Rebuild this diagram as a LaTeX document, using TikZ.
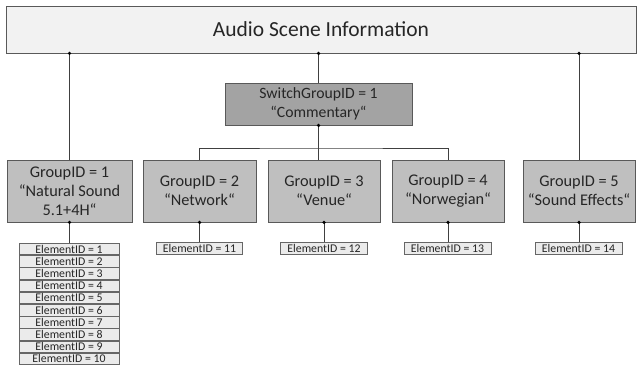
\documentclass[tikz,border=0pt]{standalone}
\usepackage{fontspec}
\setmainfont{Carlito}
\begin{document}
\begin{tikzpicture}[x=1pt,y=-1pt,
  every node/.style={inner sep=0pt, text=black!85, align=center},
  frame/.style={draw=black!65, line width=0.9pt},
  scenebox/.style={frame, fill=black!5, minimum width=630pt, minimum height=47pt, font=\fontsize{21.5}{24}\selectfont},
  switchbox/.style={frame, fill=black!36, minimum width=187pt, minimum height=42pt, font=\fontsize{15.7}{19}\selectfont},
  groupbox/.style={frame, fill=black!25, minimum width=#1, minimum height=62pt, font=\fontsize{16.3}{19}\selectfont},
  elembox/.style={draw=black!60, line width=0.7pt, fill=black!8, minimum width=#1, minimum height=11.5pt, font=\fontsize{11.8}{11}\selectfont},
  link/.style={draw=black!75, line width=0.8pt},
  dot/.style={circle, fill=black, minimum size=3.6pt, inner sep=0pt}
]
\useasboundingbox (0,0) rectangle (637,371);

% top level
\node[scenebox] (asi) at (321,29.5) {Audio Scene Information};

% switch group
\node[switchbox] (sw) at (318.5,104) {SwitchGroupID = 1\\“Commentary“};

% groups
\node[groupbox=125pt] (g1) at (69.5,191) {GroupID = 1\\“Natural Sound\\5.1+4H“};
\node[groupbox=113pt] (g2) at (199.5,191) {GroupID = 2\\“Network“};
\node[groupbox=112pt] (g3) at (324,191) {GroupID = 3\\“Venue“};
\node[groupbox=112pt] (g4) at (448,191) {GroupID = 4\\“Norwegian“};
\node[groupbox=112pt] (g5) at (579,191) {GroupID = 5\\“Sound Effects“};

% elements of group 1
\foreach \i in {1,...,10} {
  \node[elembox=100pt] (e\i) at (69,{243+6.1+(\i-1)*12.2}) {ElementID = \i};
}
% elements of the other groups
\node[elembox=86pt] (e11) at (199.5,248.5) {ElementID = 11};
\node[elembox=87pt] (e12) at (324,248.5) {ElementID = 12};
\node[elembox=87pt] (e13) at (447.5,248.5) {ElementID = 13};
\node[elembox=87pt] (e14) at (578.5,248.5) {ElementID = 14};

% scene to groups
\draw[link] (asi.south -| g1.north) -- (g1.north);
\draw[link] (asi.south -| sw.north) -- (sw.north);
\draw[link] (asi.south -| g5.north) -- (g5.north);
\node[dot] at (asi.south -| g1.north) {};
\node[dot] at (asi.south -| sw.north) {};
\node[dot] at (asi.south -| g5.north) {};

% switch group to its members
\coordinate (j) at (318.5,148);
\draw[link] (sw.south) -- (j);
\draw[link] (g2.north) |- (j) -| (g4.north);
\draw[link] (j) -- (j |- g3.north);
\node[dot] at (sw.south) {};

% groups to elements
\foreach \g/\e in {g1/e1, g2/e11, g3/e12, g4/e13, g5/e14} {
  \draw[link] (\g.south) -- (\g.south |- \e.north);
  \node[dot] at (\g.south) {};
}
\end{tikzpicture}
\end{document}
